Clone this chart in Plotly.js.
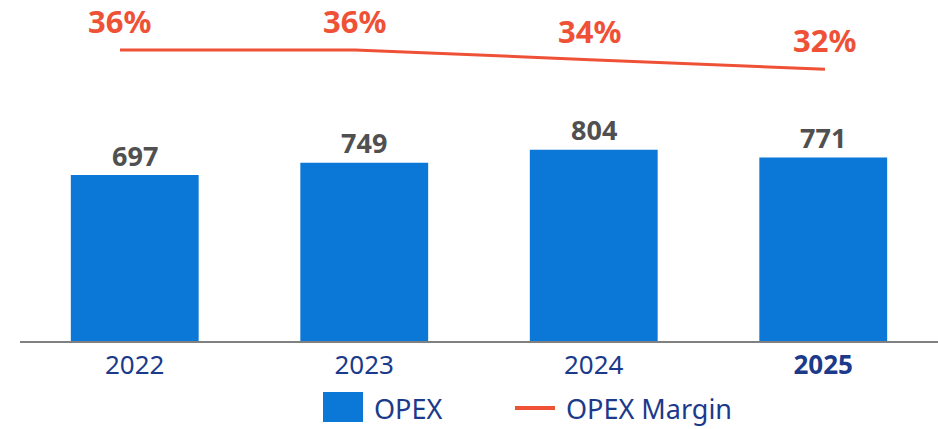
<!DOCTYPE html>
<html>
<head>
<meta charset="utf-8">
<script src="https://cdn.plot.ly/plotly-3.0.1.min.js"></script>
<style>
  html, body { margin: 0; padding: 0; background: #ffffff; }
  #chart { width: 938px; height: 429px; }
</style>
</head>
<body>
<div id="chart"></div>
<script>
// ---- data ----
const years = ['2022', '2023', '2024', '2025'];
const tickLabels = ['2022', '2023', '2024', '<b>2025</b>'];
const opex = [697, 749, 804, 771];
const opexMargin = [36, 36, 34, 32];
const seriesNames = ['OPEX', 'OPEX Margin'];

// ---- styles ----
const BAR_COLOR = '#0B77D6';
const LINE_COLOR = '#EE5136';
const VALUE_COLOR = '#505050';
const AXIS_TEXT = '#1B3A8B';
const FONT = 'Noto Sans, Open Sans, DejaVu Sans, sans-serif';

const barTrace = {
  type: 'bar',
  name: seriesNames[0],
  x: years,
  y: opex,
  marker: { color: BAR_COLOR },
  hoverinfo: 'x+y',
  cliponaxis: false
};

const lineTrace = {
  type: 'scatter',
  mode: 'lines',
  name: seriesNames[1],
  x: years,
  y: opexMargin,
  xaxis: 'x2',
  yaxis: 'y2',
  line: { color: LINE_COLOR, width: 3 },
  hoverinfo: 'x+y',
  cliponaxis: false
};

const annotations = [];
years.forEach((yr, i) => {
  // category index i on the category axes (year strings would be read as numbers)
  annotations.push({
    x: i, y: opex[i], xref: 'x', yref: 'y',
    text: '<b>' + opex[i] + '</b>',
    showarrow: false, yanchor: 'middle', yshift: 20,
    font: { family: FONT, size: 27, color: VALUE_COLOR }
  });
  annotations.push({
    x: i, y: opexMargin[i], xref: 'x2', yref: 'y2',
    text: '<b>' + opexMargin[i] + '%</b>',
    showarrow: false, yanchor: 'middle', yshift: 29,
    font: { family: FONT, size: 31, color: LINE_COLOR }
  });
});

// custom legend (swatches + labels)
const shapes = [
  { type: 'rect', xref: 'paper', yref: 'paper',
    x0: (323 - 20) / 918, x1: (363 - 20) / 918,
    y0: (341 - 422) / 341, y1: (341 - 392) / 341,
    fillcolor: BAR_COLOR, line: { width: 0 } },
  { type: 'line', xref: 'paper', yref: 'paper',
    x0: (515 - 20) / 918, x1: (555 - 20) / 918,
    y0: (341 - 408) / 341, y1: (341 - 408) / 341,
    line: { color: LINE_COLOR, width: 4 } }
];
annotations.push({
  xref: 'paper', yref: 'paper', x: (372 - 20) / 918, y: (341 - 408) / 341,
  xanchor: 'left', yanchor: 'middle', showarrow: false,
  text: seriesNames[0], font: { family: FONT, size: 27, color: AXIS_TEXT }
});
annotations.push({
  xref: 'paper', yref: 'paper', x: (564 - 20) / 918, y: (341 - 408) / 341,
  xanchor: 'left', yanchor: 'middle', showarrow: false,
  text: seriesNames[1], font: { family: FONT, size: 27, color: AXIS_TEXT }
});

const layout = {
  width: 938,
  height: 429,
  margin: { l: 20, r: 0, t: 0, b: 88, pad: 0 },
  paper_bgcolor: '#ffffff',
  plot_bgcolor: '#ffffff',
  showlegend: false,
  bargap: 0.443,
  font: { family: FONT },
  xaxis: {
    type: 'category',
    categoryorder: 'array',
    categoryarray: years,
    range: [-0.5, 3.5],
    tickmode: 'array',
    tickvals: years,
    ticktext: tickLabels,
    showline: true,
    linecolor: '#808080',
    linewidth: 2,
    ticks: '',
    showgrid: false,
    zeroline: false,
    tickfont: { family: FONT, size: 26, color: AXIS_TEXT },
    fixedrange: true
  },
  yaxis: {
    range: [0, 1432.8],
    visible: false,
    showgrid: false,
    zeroline: false,
    fixedrange: true
  },
  xaxis2: {
    type: 'category',
    categoryorder: 'array',
    categoryarray: years,
    overlaying: 'x',
    anchor: 'y2',
    range: [-0.4255, 3.481],
    visible: false,
    fixedrange: true
  },
  yaxis2: {
    overlaying: 'y',
    anchor: 'x2',
    range: [-24, 46.3],
    visible: false,
    fixedrange: true
  },
  annotations: annotations,
  shapes: shapes
};

Plotly.newPlot('chart', [barTrace, lineTrace], layout, { displayModeBar: false, staticPlot: true });
</script>
</body>
</html>
